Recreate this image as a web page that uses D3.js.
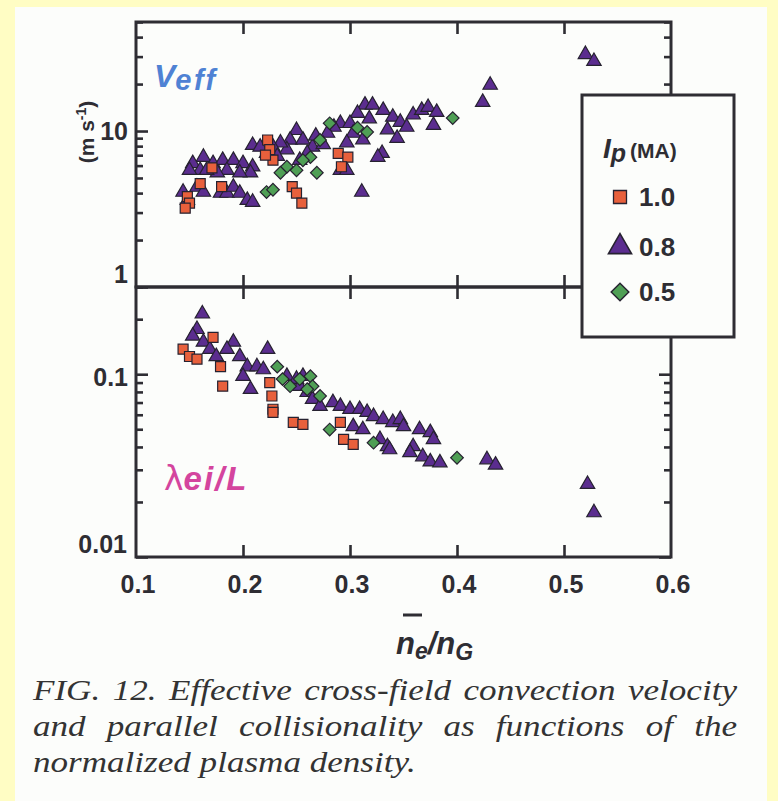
<!DOCTYPE html>
<html>
<head>
<meta charset="utf-8">
<script src="https://cdn.jsdelivr.net/npm/d3@7"></script>
<style>
  body { margin: 0; background: #fffdc4; }
  svg { display: block; }
</style>
</head>
<body>
<svg id="chart" width="778" height="801"></svg>
<script>
// values: [ne/nG, value]
var veffSquares = [[0.223,8.76],[0.225,7.6],[0.228,6.5],[0.171,5.8],[0.180,4.4],[0.148,3.8],[0.150,3.45],[0.146,3.2],
  [0.246,4.4],[0.250,4.0],[0.255,3.45],[0.289,7.2],[0.298,6.8],[0.292,5.9],[0.221,7.0],[0.160,4.6]];
var veffTriangles = [[0.431,19.7],[0.424,15.3],[0.52,31],[0.528,28],
  [0.314,14.7],[0.321,14.7],[0.331,13.6],[0.307,13.0],[0.340,12.3],[0.347,11.4],[0.353,10.6],
  [0.359,12.7],[0.367,13.6],[0.373,14.2],[0.381,13.2],[0.378,10.9],[0.344,9.0],[0.335,10.2],
  [0.330,7.2],[0.326,6.8],[0.311,4.06],[0.291,5.6],[0.297,5.6],
  [0.250,10.1],[0.244,8.76],[0.256,8.76],[0.265,7.9],[0.260,7.2],[0.253,6.5],[0.241,7.6],[0.235,8.4],[0.228,7.9],[0.222,7.2],
  [0.209,8.1],[0.216,7.9],[0.291,11.2],[0.300,11.2],[0.285,10.6],[0.279,9.7],[0.303,9.7],[0.312,8.8],[0.297,8.4],
  [0.268,9.3],[0.275,8.2],[0.232,6.9],[0.318,12.0],
  [0.163,6.8],[0.153,6.2],[0.160,5.6],[0.172,6.2],[0.181,6.5],[0.191,6.5],[0.200,6.2],[0.209,5.9],[0.207,5.4],
  [0.197,5.4],[0.185,5.6],[0.176,5.4],[0.166,5.6],[0.150,5.6],
  [0.144,4.06],[0.157,4.37],[0.163,4.06],[0.179,4.0],[0.185,4.0],[0.191,4.37],[0.197,4.0],[0.204,3.6],[0.209,3.5],[0.148,3.6]];
var veffDiamonds = [[0.281,11.2],[0.272,8.76],[0.316,9.85],[0.396,12.1],[0.263,6.8],[0.269,5.4],[0.241,5.9],[0.250,5.6],
  [0.235,5.4],[0.222,4.06],[0.228,4.2],[0.256,6.5],[0.307,10.5]];

var lambdaSquares = [[0.144,0.137],[0.150,0.125],[0.157,0.121],[0.172,0.159],[0.179,0.110],[0.181,0.086],[0.225,0.090],
  [0.227,0.076],[0.228,0.0643],[0.228,0.0619],[0.247,0.0545],[0.256,0.0531],[0.291,0.0545],[0.294,0.0440],[0.303,0.0413]];
var lambdaTriangles = [[0.162,0.214],[0.157,0.176],[0.153,0.162],
  [0.191,0.150],[0.185,0.137],[0.197,0.125],[0.204,0.110],[0.200,0.0975],[0.207,0.0827],
  [0.223,0.137],[0.213,0.110],[0.219,0.106],[0.163,0.150],[0.169,0.137],[0.175,0.125],
  [0.241,0.0975],[0.250,0.094],[0.256,0.0975],[0.253,0.086],[0.260,0.0796],[0.265,0.073],[0.272,0.0668],
  [0.284,0.0701],[0.291,0.0668],[0.300,0.0643],[0.309,0.0643],[0.316,0.0619],[0.322,0.0588],[0.331,0.0566],
  [0.340,0.0545],[0.347,0.0566],[0.350,0.0518],[0.303,0.0518],[0.312,0.0498],[0.328,0.0440],[0.335,0.0402],[0.337,0.0387],
  [0.365,0.0498],[0.375,0.0480],[0.378,0.0440],[0.359,0.0402],[0.356,0.0373],[0.368,0.0354],[0.375,0.0332],[0.384,0.0328],
  [0.428,0.0341],[0.436,0.0319],[0.522,0.025],[0.528,0.0175]];
var lambdaDiamonds = [[0.232,0.110],[0.237,0.094],[0.244,0.086],[0.253,0.094],[0.263,0.0975],[0.265,0.086],[0.272,0.076],
  [0.260,0.0827],[0.281,0.0498],[0.322,0.0422],[0.400,0.0349]];

var xTicks = [0.1, 0.2, 0.3, 0.4, 0.5, 0.6];
var veffMajor = [1, 10];
var veffMinor = [2, 3, 4, 5, 6, 7, 8, 9, 20, 30, 40, 50];
var lambdaMajor = [0.01, 0.1];
var lambdaMinor = [0.02, 0.03, 0.04, 0.05, 0.06, 0.07, 0.08, 0.09, 0.2, 0.3];
var legendLabels = ["1.0", "0.8", "0.5"];
var captionLines = ["FIG. 12. Effective cross-field convection velocity",
  "and parallel collisionality as functions of the",
  "normalized plasma density."];

var svg = d3.select("#chart");
var ink = "#2e2d33";
var font = "'Liberation Sans', Arial, sans-serif";

// page paper
svg.append("rect").attr("x", 15).attr("y", 7).attr("width", 752).attr("height", 794).attr("fill", "#fcfdfb");

var x = d3.scaleLinear().domain([0.1, 0.6]).range([136, 671]);
var yTop = d3.scaleLog().domain([1, 50]).range([287, 22]);
var yBot = d3.scaleLog().domain([0.01, 0.3]).range([557, 287]);

// ticks for one panel, all pointing inward
function drawPanel(y, major, minor) {
  var r = y.range();
  var g = svg.append("g");
  var inner = [0.2, 0.3, 0.4, 0.5];
  var axes = [
    [d3.axisLeft(y).tickValues(major).tickSize(-12), "translate(136,0)"],
    [d3.axisLeft(y).tickValues(minor).tickSize(-7), "translate(136,0)"],
    [d3.axisRight(y).tickValues(major).tickSize(-12), "translate(671,0)"],
    [d3.axisRight(y).tickValues(minor).tickSize(-7), "translate(671,0)"],
    [d3.axisBottom(x).tickValues(inner).tickSize(-12), "translate(0," + r[0] + ")"],
    [d3.axisTop(x).tickValues(inner).tickSize(-12), "translate(0," + r[1] + ")"]
  ];
  axes.forEach(function(a) {
    var ag = g.append("g").attr("transform", a[1]).call(a[0].tickFormat(""));
    ag.select(".domain").remove();
    ag.selectAll("line").attr("stroke", ink).attr("stroke-width", 2.6);
  });
  g.append("rect")
    .attr("x", 136).attr("y", r[1])
    .attr("width", 535).attr("height", r[0] - r[1])
    .attr("fill", "none").attr("stroke", ink).attr("stroke-width", 3);
}

drawPanel(yTop, veffMajor, veffMinor);
drawPanel(yBot, lambdaMajor, lambdaMinor);

// markers
var sqColor = "#e8603c", triColor = "#5b2d8f", diaColor = "#4f9f55";
var triPath = d3.symbol().type(d3.symbolTriangle).size(90)();
var sqPath = d3.symbol().type(d3.symbolSquare).size(100)();
var diaPath = d3.symbol().type(d3.symbolSquare).size(80)();

function drawPoints(data, y, path, fill, rot) {
  svg.append("g").selectAll("path")
    .data(data)
    .enter().append("path")
      .attr("d", path)
      .attr("transform", function(d) { return "translate(" + x(d[0]) + "," + y(d[1]) + ")" + (rot ? " rotate(45)" : ""); })
      .attr("fill", fill)
      .attr("stroke", "#262230")
      .attr("stroke-width", 1.2);
}

drawPoints(veffTriangles, yTop, triPath, triColor);
drawPoints(veffSquares, yTop, sqPath, sqColor);
drawPoints(veffDiamonds, yTop, diaPath, diaColor, true);
drawPoints(lambdaTriangles, yBot, triPath, triColor);
drawPoints(lambdaSquares, yBot, sqPath, sqColor);
drawPoints(lambdaDiamonds, yBot, diaPath, diaColor, true);

// tick labels
var tickText = svg.append("g").attr("font-family", font).attr("font-weight", "bold")
  .attr("font-size", 25).attr("fill", ink);
tickText.selectAll(".xl").data(xTicks).enter().append("text")
  .attr("x", function(d) { return x(d) + 2; }).attr("y", 593)
  .attr("text-anchor", "middle").text(function(d) { return d.toFixed(1); });

tickText.append("text").attr("x", 128).attr("y", yTop(10) + 9).attr("text-anchor", "end").text("10");
tickText.append("text").attr("x", 128).attr("y", yTop(1) - 4).attr("text-anchor", "end").text("1");
tickText.append("text").attr("x", 128).attr("y", yBot(0.1) + 12).attr("text-anchor", "end").text("0.1");
tickText.append("text").attr("x", 127).attr("y", yBot(0.01) - 4).attr("text-anchor", "end").text("0.01");

// y unit
svg.append("text")
  .attr("transform", "translate(94,132) rotate(-90)")
  .attr("text-anchor", "middle")
  .attr("font-family", font).attr("font-weight", "bold").attr("font-size", 21).attr("fill", ink)
  .text("(m s").append("tspan").attr("font-size", 14).attr("dy", -8).text("-1")
  .select(function() { return this.parentNode; }).append("tspan").attr("dy", 8).text(")");

// panel titles
var veff = svg.append("text").attr("x", 154).attr("y", 87)
  .attr("font-family", font).attr("font-weight", "bold").attr("font-style", "italic")
  .attr("fill", "#4f82d4").attr("font-size", 32);
veff.append("tspan").text("V");
veff.append("tspan").attr("font-size", 29).attr("dy", 3).attr("letter-spacing", 2.5).text("eff");

var lam = svg.append("text").attr("x", 164).attr("y", 490)
  .attr("font-family", font).attr("font-weight", "bold")
  .attr("fill", "#d4459e").attr("font-size", 33);
lam.append("tspan").attr("font-family", "'DejaVu Sans', sans-serif").attr("font-weight", "normal").text("\u03bb");
lam.append("tspan").attr("font-style", "italic").attr("letter-spacing", 2).text("ei/L");

// x axis title
var xt = svg.append("text").attr("x", 396).attr("y", 654)
  .attr("font-family", font).attr("font-weight", "bold").attr("font-style", "italic")
  .attr("fill", ink).attr("font-size", 31);
xt.append("tspan").text("n");
xt.append("tspan").attr("font-size", 23).attr("dy", 5).text("e");
xt.append("tspan").attr("dy", -5).text("/n");
xt.append("tspan").attr("font-size", 23).attr("dy", 6).text("G");
svg.append("line").attr("x1", 403).attr("x2", 422).attr("y1", 615).attr("y2", 615)
  .attr("stroke", ink).attr("stroke-width", 3);

// legend
var leg = svg.append("g");
leg.append("rect").attr("x", 582).attr("y", 95).attr("width", 152).attr("height", 242)
  .attr("fill", "#fcfdfb").attr("stroke", ink).attr("stroke-width", 3);
var lt = leg.append("text").attr("x", 603).attr("y", 158)
  .attr("font-family", font).attr("font-weight", "bold").attr("fill", ink).attr("font-size", 28);
lt.append("tspan").attr("font-style", "italic").text("I");
lt.append("tspan").attr("font-style", "italic").attr("font-size", 25).attr("dy", 4).text("p");
lt.append("tspan").attr("font-size", 21).attr("dy", -4).attr("dx", 4).text("(MA)");

var legRows = [[sqPath, sqColor, false, 197, 1.3], [triPath, triColor, false, 247, 1.6], [diaPath, diaColor, true, 292, 1.4]];
legRows.forEach(function(r, i) {
  leg.append("path").attr("d", r[0])
    .attr("transform", "translate(620," + r[3] + ")" + (r[2] ? " rotate(45)" : "") + " scale(" + r[4] + ")")
    .attr("fill", r[1]).attr("stroke", "#262230").attr("stroke-width", 1);
  leg.append("text").attr("x", 639).attr("y", r[3] + 9)
    .attr("font-family", font).attr("font-weight", "bold").attr("font-size", 26).attr("fill", ink)
    .text(legendLabels[i]);
});

// caption, first two lines justified; widened serif italic
var capLeft = 33, capRight = 737, capTop = 700, capStep = 36, capStretch = 1.17;
captionLines.forEach(function(line, i) {
  var words = line.split(" ");
  var g = svg.append("g")
    .attr("transform", "translate(" + capLeft + ",0) scale(" + capStretch + ",1)")
    .attr("font-family", "'Liberation Serif', 'Times New Roman', serif")
    .attr("font-style", "italic").attr("font-size", 30).attr("fill", "#333");
  var nodes = words.map(function(w) {
    return g.append("text").attr("y", capTop + i * capStep).text(w);
  });
  var widths = nodes.map(function(n) { return n.node().getComputedTextLength(); });
  var span = (capRight - capLeft) / capStretch;
  var gap = 7.5;
  if (i < captionLines.length - 1) {
    gap = (span - d3.sum(widths)) / (words.length - 1);
  }
  var pos = 0;
  nodes.forEach(function(n, j) {
    n.attr("x", pos);
    pos += widths[j] + gap;
  });
});
</script>
</body>
</html>
